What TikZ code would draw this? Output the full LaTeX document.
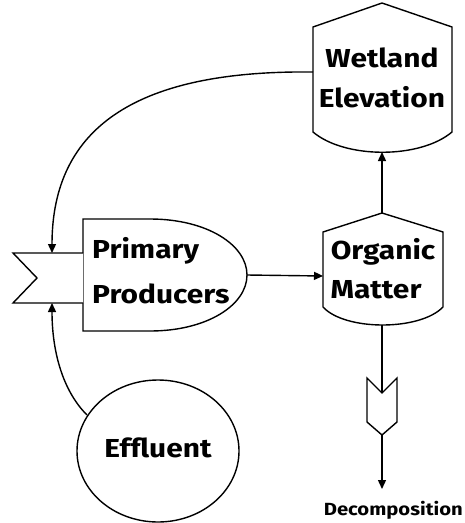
\documentclass[tikz,border=0pt]{standalone}
\usepackage{fontspec}
\setmainfont[FakeStretch=1.15]{Fira Sans}
\usetikzlibrary{arrows.meta}
\begin{document}
\begin{tikzpicture}[x=1pt,y=-1pt,
  shp/.style={draw=black,line width=1.4pt,fill=white,line join=miter},
  con/.style={draw=black,line width=1.4pt},
  arr/.style={con,-{Triangle[width=8pt,length=9pt]}},
  big/.style={font=\fontsize{26}{28}\selectfont\bfseries,inner sep=0pt},
  small/.style={font=\fontsize{17.6}{20}\selectfont\bfseries,inner sep=0pt}]
\useasboundingbox[clip] (0,0) rectangle (465,523);
\fill[white] (0,0) rectangle (465,523);
% named anchor points
\coordinate (wl) at (313,72);
\coordinate (wb) at (382,152);
\coordinate (ot) at (382,213);
\coordinate (ol) at (323,276);
\coordinate (ob) at (382,325);
\coordinate (pr) at (247,275);
\coordinate (ft) at (52,253);
\coordinate (fb) at (52,303);
\coordinate (ef) at (87,415);
\coordinate (dn) at (382,393);
\coordinate (dp) at (382,435);
\coordinate (dt) at (382,489);
% Wetland Elevation
\draw[shp] (313,27) -- (382,3) -- (452,27) -- (452,132) .. controls (420,159) and (345,159) .. (313,132) -- cycle;
\node[big] (wet1) at (382,58) {Wetland};
\node[big] (wet2) at (382,97) {Elevation};
% Organic Matter
\draw[shp] (323,232) -- (382,213) -- (443,232) -- (443,307) .. controls (420,331) and (345,331) .. (323,307) -- cycle;
\node[big] (org1) at (383,252) {Organic};
\node[big] (org2) at (376,290) {Matter};
% Primary Producers
\draw[shp] (83,219) -- (150,219) .. controls (207,219) and (247,245) .. (247,275) .. controls (247,305) and (207,331) .. (150,331) -- (83,331) -- cycle;
\draw[shp] (83,253) -- (13,253) -- (37,278) -- (13,303) -- (83,303);
\node[big,anchor=west] (pp1) at (92,251) {Primary};
\node[big,anchor=west] (pp2) at (92,294) {Producers};
% Effluent
\draw[shp] (158,451) ellipse [x radius=81, y radius=71];
\node[big] (eff) at (158,448) {Effluent};
% connectors
\draw[arr] (wl) .. controls (140,70) and (52,125) .. (ft);
\draw[arr] (ef) .. controls (62,390) and (52,350) .. (fb);
\draw[arr] (pr) -- (ol);
\draw[arr] (ot) -- (wb);
\draw[con] (ob) -- (dn);
\draw[shp] (367,378) -- (382,393) -- (397,378) -- (397,422) -- (382,435) -- (367,422) -- cycle;
\draw[arr] (dp) -- (dt);
\node[small,anchor=base east] (dec) at (463,515) {Decomposition};
\end{tikzpicture}
\end{document}
